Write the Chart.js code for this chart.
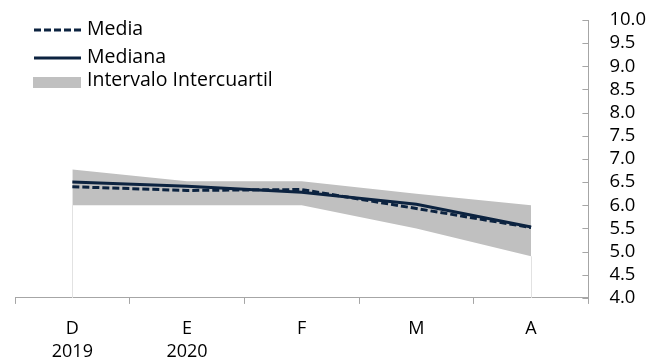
<!DOCTYPE html>
<html>
<head>
<meta charset="utf-8">
<script src="https://cdn.jsdelivr.net/npm/chart.js@4.4.1/dist/chart.umd.min.js"></script>
<style>
  html, body { margin: 0; padding: 0; background: #fff; }
  #wrap { width: 662px; height: 360px; }
</style>
</head>
<body>
<div id="wrap"><canvas id="chart"></canvas></div>
<script>
// monthly survey: mean, median and interquartile range
const months = [["D", "2019"], ["E", "2020"], "F", "M", "A"];
const media = [6.4, 6.32, 6.34, 5.93, 5.52];
const mediana = [6.5, 6.41, 6.28, 6.02, 5.53];
const q1 = [6.0, 6.0, 6.0, 5.5, 4.9];
const q3 = [6.77, 6.52, 6.52, 6.25, 6.0];
const yTicks = [4.0, 10.0, 0.5]; // min, max, step

const navy = "#0c2340";
const band = "#c0c0c0";
const axisGray = "#a6a6a6";
const fontFamily = "'Open Sans', sans-serif";

// little tick marks pointing into the plot on the right axis,
// plus the faint drop lines under the band at both ends
const extras = {
    id: "extras",
    beforeDatasetsDraw(chart) {
        const { ctx, scales: { x, y } } = chart;
        ctx.save();
        ctx.strokeStyle = "#e2e2e2";
        ctx.lineWidth = 1;
        [0, q1.length - 1].forEach(i => {
            const px = Math.round(x.getPixelForValue(i)) + 0.5;
            ctx.beginPath();
            ctx.moveTo(px, y.getPixelForValue(q1[i]));
            ctx.lineTo(px, y.bottom);
            ctx.stroke();
        });
        ctx.restore();
    },
    afterDraw(chart) {
        const { ctx, scales: { y } } = chart;
        ctx.save();
        ctx.strokeStyle = axisGray;
        ctx.lineWidth = 1;
        y.ticks.forEach(t => {
            const py = Math.round(y.getPixelForValue(t.value)) + 0.5;
            ctx.beginPath();
            ctx.moveTo(y.left - 6, py);
            ctx.lineTo(y.left, py);
            ctx.stroke();
        });

        // legend, top left
        const lx = 34, lw = 47;
        ctx.font = "19.5px " + fontFamily;
        ctx.fillStyle = "#000";
        ctx.textBaseline = "middle";
        ctx.lineWidth = 3;
        ctx.strokeStyle = navy;

        ctx.setLineDash([7, 3]);
        ctx.beginPath();
        ctx.moveTo(lx, 30);
        ctx.lineTo(lx + lw, 30);
        ctx.stroke();
        ctx.fillText("Media", lx + lw + 6, 29);

        ctx.setLineDash([]);
        ctx.beginPath();
        ctx.moveTo(lx, 58);
        ctx.lineTo(lx + lw, 58);
        ctx.stroke();
        ctx.fillText("Mediana", lx + lw + 6, 57);

        ctx.fillStyle = band;
        ctx.fillRect(lx - 1, 77, lw + 1, 11);
        ctx.fillStyle = "#000";
        ctx.fillText("Intervalo Intercuartil", lx + lw + 6, 80);
        ctx.restore();
    }
};

new Chart(document.getElementById("chart"), {
    type: "line",
    data: {
        labels: months,
        datasets: [
            { label: "Media", data: media, borderColor: navy, borderWidth: 3, borderDash: [7, 3], pointRadius: 0, fill: false, order: 1 },
            { label: "Mediana", data: mediana, borderColor: navy, borderWidth: 3, pointRadius: 0, fill: false, order: 2 },
            { label: "q1", data: q1, borderWidth: 0, borderColor: "rgba(0,0,0,0)", pointRadius: 0, fill: false, order: 4 },
            { label: "Intervalo Intercuartil", data: q3, borderWidth: 0, borderColor: "rgba(0,0,0,0)", backgroundColor: band, pointRadius: 0, fill: "-1", order: 3 },
        ],
    },
    options: {
        responsive: true,
        maintainAspectRatio: false,
        animation: false,
        layout: { padding: { left: 15, right: 13, top: 20, bottom: -16 } },
        plugins: {
            legend: { display: false },
            tooltip: { enabled: false },
        },
        scales: {
            x: {
                offset: true,
                grid: { offset: true, drawOnChartArea: false, drawTicks: true, tickLength: 6, color: axisGray },
                border: { color: axisGray },
                ticks: { color: "#000", padding: 13, maxRotation: 0, font: { family: fontFamily, size: 18, lineHeight: 1.28 } },
            },
            y: {
                position: "right",
                min: yTicks[0],
                max: yTicks[1],
                // the outer tick space is kept but left unpainted; inner ticks come from the plugin
                grid: { drawOnChartArea: false, drawTicks: true, tickLength: 18, color: "rgba(0,0,0,0)" },
                border: { color: axisGray },
                ticks: {
                    stepSize: yTicks[2],
                    autoSkip: false,
                    padding: 3,
                    color: "#000",
                    font: { family: fontFamily, size: 18.5 },
                    callback: v => v.toFixed(1),
                },
            },
        },
    },
    plugins: [extras],
});
</script>
</body>
</html>
